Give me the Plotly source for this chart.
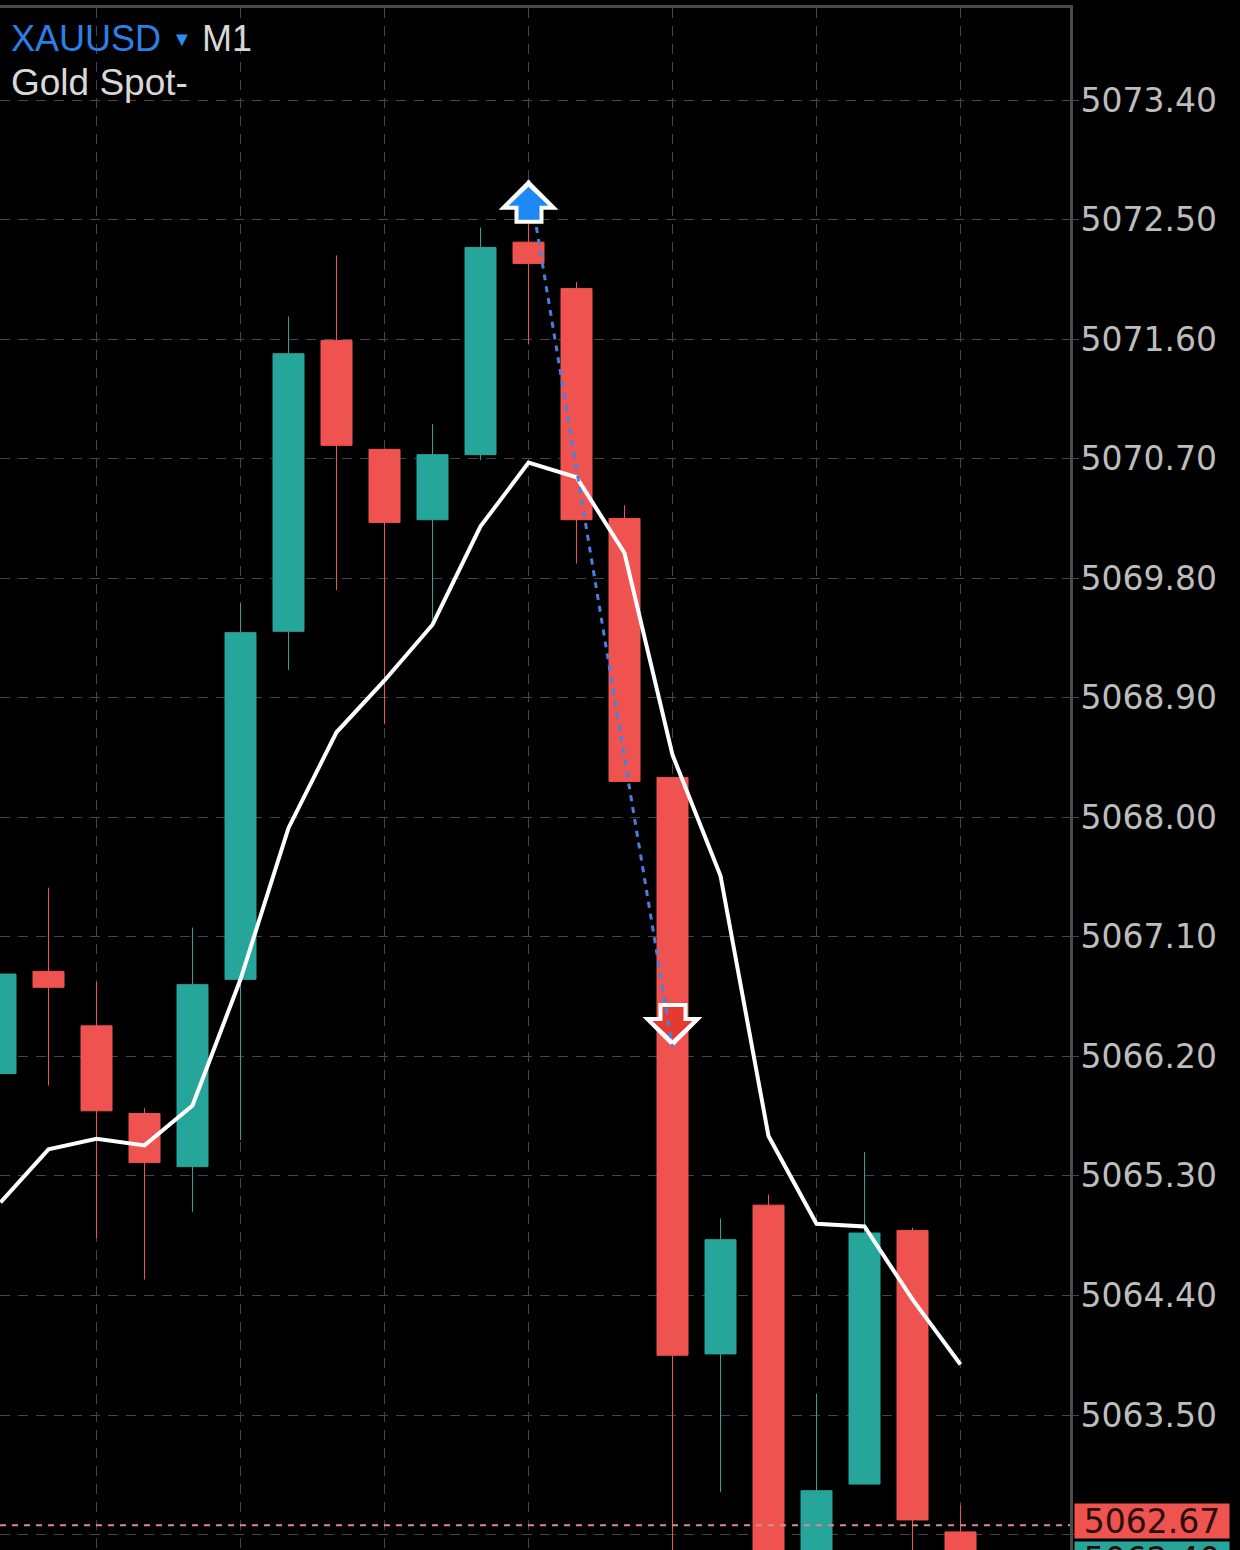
import plotly.graph_objects as go

# M1 candles, index = bar number
bars = list(range(21))
opens = [5066.07, 5066.84, 5066.43, 5065.77, 5065.37, 5066.78, 5069.40, 5071.59, 5070.77, 5070.24, 5070.73,
         5072.33, 5071.98, 5070.25, 5068.30, 5063.96, 5065.08, 5062.20, 5062.98, 5064.89, 5062.62]
highs = [5066.82, 5067.47, 5066.76, 5065.81, 5067.17, 5069.61, 5071.77, 5072.23, 5070.77, 5070.96, 5072.44,
         5072.53, 5072.03, 5070.35, 5068.30, 5064.98, 5065.16, 5063.66, 5065.48, 5064.91, 5062.82]
lows = [5066.07, 5065.98, 5064.83, 5064.52, 5065.03, 5065.57, 5069.11, 5069.71, 5068.70, 5069.49, 5070.69,
        5071.56, 5069.91, 5068.27, 5061.90, 5062.92, 5061.90, 5062.10, 5062.98, 5062.30, 5062.30]
closes = [5066.82, 5066.72, 5065.79, 5065.40, 5066.74, 5069.39, 5071.49, 5070.80, 5070.22, 5070.73, 5072.29,
          5072.17, 5070.24, 5068.27, 5063.95, 5064.82, 5062.10, 5062.93, 5064.87, 5062.71, 5062.30]
ma = [5065.10, 5065.50, 5065.58, 5065.53, 5065.83, 5066.78, 5067.92, 5068.64, 5069.03, 5069.45, 5070.19,
      5070.67, 5070.56, 5069.99, 5068.47, 5067.56, 5065.60, 5064.94, 5064.92, 5064.37, 5063.88]

trade_bars = [11, 14]
trade_prices = [5072.80, 5066.27]
bid = 5062.67
ask_label_top = 5062.55

price_ticks = [5073.40, 5072.50, 5071.60, 5070.70, 5069.80, 5068.90, 5068.00, 5067.10, 5066.20, 5065.30,
               5064.40, 5063.50, 5062.60]
tick_text = ["5073.40", "5072.50", "5071.60", "5070.70", "5069.80", "5068.90", "5068.00", "5067.10", "5066.20",
             "5065.30", "5064.40", "5063.50", ""]
grid_bars = [2, 5, 8, 11, 14, 17, 20]

WIDTH, HEIGHT = 1240, 1550
PLOT_TOP, PLOT_RIGHT = 8, 1070
BAR_PX = 48
PRICE_PX = 132.83
RED = "#EF5350"
TEAL = "#26A69A"
GRID = "#44444c"
AXIS = "#4a4a4a"
TICK_COLOR = "#bdbdbd"

# half pixel shift keeps the 1px wicks crisp
x_range = [-0.5 / BAR_PX, (PLOT_RIGHT - 0.5) / BAR_PX]
y_range = [5073.40 - (HEIGHT - 100) / PRICE_PX, 5073.40 + (100 - PLOT_TOP) / PRICE_PX]

# block arrow outlines in pixels relative to the tip, up arrow version
ARROW_OUTER = [(0, 0), (30, 30), (15, 30), (15, 44), (-14, 44), (-14, 30), (-30, 30), (0, 0)]
ARROW_INNER = [(0, 7), (20, 26), (11, 26), (11, 40), (-10, 40), (-10, 26), (-20, 26), (0, 7)]


def arrow(bar, price, outline, color, flip):
    sign = -1 if flip else 1
    xs = [bar + dx / BAR_PX for dx, dy in outline]
    ys = [price - sign * dy / PRICE_PX for dx, dy in outline]
    return go.Scatter(x=xs, y=ys, mode="lines", fill="toself", fillcolor=color, line=dict(width=0),
                      hoverinfo="skip", showlegend=False)


fig = go.Figure()
fig.add_trace(go.Candlestick(x=bars, open=opens, high=highs, low=lows, close=closes,
                             increasing=dict(line=dict(color=TEAL, width=1), fillcolor=TEAL),
                             decreasing=dict(line=dict(color=RED, width=1), fillcolor=RED),
                             whiskerwidth=0, showlegend=False))
fig.add_trace(go.Scatter(x=bars, y=ma, mode="lines", line=dict(color="#ffffff", width=4), showlegend=False))

# down arrow sits under the dotted line, up arrow on top of it
fig.add_trace(arrow(trade_bars[1], trade_prices[1], ARROW_OUTER, "#ffffff", True))
fig.add_trace(arrow(trade_bars[1], trade_prices[1], ARROW_INNER, "#E53A30", True))
fig.add_trace(go.Scatter(x=trade_bars, y=trade_prices, mode="lines",
                         line=dict(color="#4a7fe0", width=3, dash="6px,6px"), showlegend=False))
fig.add_trace(arrow(trade_bars[0], trade_prices[0], ARROW_OUTER, "#ffffff", False))
fig.add_trace(arrow(trade_bars[0], trade_prices[0], ARROW_INNER, "#1E88F5", False))

fig.add_shape(type="line", xref="paper", x0=0, x1=1, y0=bid, y1=bid,
              line=dict(color="#d98a8a", width=2, dash="6px,6px"))


def text(x, y, label, color, size):
    fig.add_annotation(xref="paper", yref="paper", x=x / PLOT_RIGHT, y=1 - (y - PLOT_TOP) / (HEIGHT - PLOT_TOP),
                       xanchor="left", yanchor="middle", text=label, showarrow=False,
                       font=dict(family="Liberation Sans", size=size, color=color))


text(9, 38, "XAUUSD", "#2D7FE8", 36)
text(170, 39, "▼", "#2D8CF0", 20)
text(200, 38, "M1", "#d8d8d8", 36)
text(9, 82, "Gold Spot-", "#d8d8d8", 37)

label_font = dict(family="DejaVu Sans", size=33, color="#2a0c0c")
fig.add_annotation(xref="paper", x=1, xanchor="left", xshift=4, yref="y", y=bid, yanchor="middle", yshift=4,
                   text="5062.67", showarrow=False, bgcolor=RED, width=152, height=32, font=label_font)
# ask label hangs off the bottom of the page, only its top edge shows
fig.add_annotation(xref="paper", x=1, xanchor="left", xshift=4, yref="y", y=ask_label_top, yanchor="top",
                   text="5062.40", showarrow=False, bgcolor=TEAL, width=152, height=32, font=label_font)

fig.update_layout(
    width=WIDTH, height=HEIGHT,
    margin=dict(l=0, r=WIDTH - PLOT_RIGHT, t=PLOT_TOP, b=0, autoexpand=False),
    paper_bgcolor="#000000", plot_bgcolor="#000000",
    showlegend=False, boxgap=0.354, boxgroupgap=0, hovermode=False,
    xaxis=dict(range=x_range, side="top", tickvals=grid_bars, showticklabels=False, ticks="",
               showgrid=True, gridcolor=GRID, griddash="10px,8px", gridwidth=1, zeroline=False,
               showline=True, linecolor=AXIS, linewidth=3, rangeslider=dict(visible=False)),
    yaxis=dict(range=y_range, side="right", tickvals=price_ticks, ticktext=tick_text, ticks="outside",
               ticklen=6, tickcolor=GRID, ticklabelstandoff=-5,
               tickfont=dict(family="DejaVu Sans", size=33, color=TICK_COLOR),
               showgrid=True, gridcolor=GRID, griddash="10px,8px", gridwidth=1, zeroline=False,
               showline=True, linecolor=AXIS, linewidth=3),
)

# the page's default body margin would push the chart off by 8px
fig.write_html("out.html", config=dict(displayModeBar=False),
               post_script="document.body.style.margin='0';document.body.style.background='#000';")
